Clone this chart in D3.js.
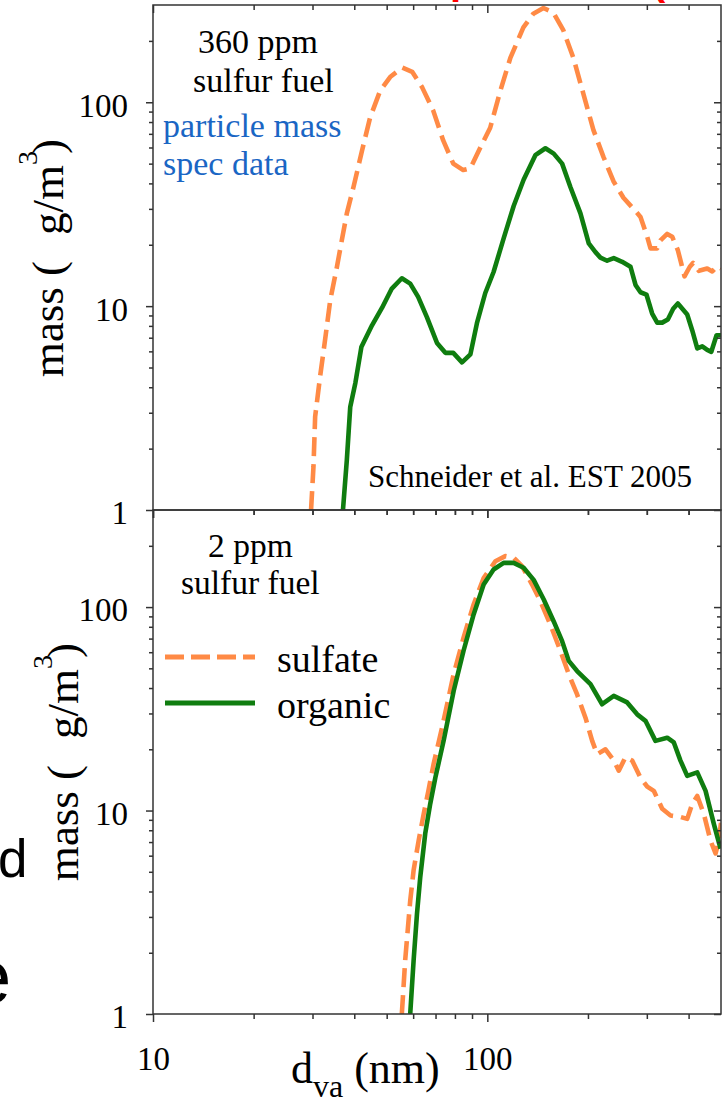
<!DOCTYPE html>
<html>
<head>
<meta charset="utf-8">
<script src="https://cdn.jsdelivr.net/npm/d3@7"></script>
<style>
  html, body { margin: 0; padding: 0; background: #fff; }
  svg { display: block; }
</style>
</head>
<body>
<svg id="chart" width="723" height="1099"></svg>
<script>
// ---------------- data (diameter nm, mass) ----------------
const topSulfate = [
  [29.7,1.0],[30.2,1.63],[30.55,2.87],[31.6,4.5],[32.7,6.8],[33.9,10.7],[35.5,15.6],[36.7,21],
  [38.0,28.5],[39.8,38.5],[42.2,58],[44.6,84],[47.8,114],[51.2,133],[55.7,148],
  [59.6,141],[63.9,118],[68.9,91],[73.8,65],[79.1,50],[84.7,46.5],[89.0,47.5],[95.3,60],
  [102,75],[109.4,114],[117.2,165],[128.2,233],[137.3,272],[147.2,290],[157.7,275],[168.9,225],
  [180.9,165],[193.8,110],[207.7,73],[222.5,54],[238.4,41],[255.4,34],[273.7,30],[287.2,27.4],
  [300.8,21.9],[307.7,19.2],[322.2,19.2],[329.6,21],[345.2,22.6],[357.3,21.9],[371.5,18.8],
  [380.2,16.2],[388.9,14],[403.3,15.6],[412.8,16.3],[429.3,14.9],[454.7,15.3],[470.8,14.8],
  [487.3,15.7],[500,15.3]
];
const topOrganic = [
  [37.0,1.0],[38.0,1.76],[38.9,3.2],[40.3,4.2],[42.0,6.3],[45.2,8.05],[48.4,9.8],[51.8,12.2],
  [55.5,13.7],[58.8,12.9],[62.1,11.1],[66.0,8.8],[70.7,6.6],[74.9,5.9],[79.1,5.9],[84.0,5.3],
  [89.0,5.8],[93.1,8.25],[98.6,11.6],[104.4,14.7],[111.9,21.5],[119.9,31],[128.4,41.7],
  [139.2,55],[149.2,59.5],[158.0,56],[167.4,50],[177.2,38.4],[189.9,28.5],[201.1,20.3],
  [210.6,18.4],[217.9,17.3],[228.2,16.7],[238.9,17.2],[253.1,16.5],[268.1,15.6],[277.5,12.7],
  [287.2,11.7],[299.2,11.4],[311.2,9.2],[322.2,8.3],[333.5,8.3],[346.7,8.6],[359.7,9.7],
  [371.5,10.3],[396.2,9.1],[410.2,7.6],[424.6,6.2],[439.5,6.35],[454.7,6.1],[467.7,5.97],
  [484.9,7.2],[500,7.2]
];
const bottomSulfate = [
  [55.5,1.0],[56.8,1.84],[58.8,3.6],[60.2,5.1],[62.3,7.1],[64.5,9.6],[66.7,12.6],[69.1,17],
  [73.2,25.5],[79.3,46.8],[84.9,70.8],[91.0,103],[97.5,139],[105.7,168],[113.2,178],[119.9,175],
  [127.0,159],[136.1,129],[144.1,107],[154.4,82],[165.4,61],[175.2,46.8],[185.6,37.2],
  [196.6,28.6],[205.9,22],[213.1,18.9],[225.6,20],[238.9,17.6],[247.3,15.7],[259.0,18.3],
  [271.2,17.6],[287.2,14.5],[300.8,13.1],[314.7,12.5],[333.5,10.2],[353.2,9.45],[378.2,9.3],
  [396.2,9.1],[410.2,10.8],[424.6,11.8],[444.4,9.6],[465.4,7.1],[481.6,6.15],[492.7,7.1],[500,8.7]
];
const bottomOrganic = [
  [58.8,1.0],[60.2,1.84],[61.6,3.1],[63.0,4.7],[65.2,7.7],[67.5,10.8],[69.9,14.5],[74.0,22],
  [79.3,38.7],[84.9,61],[91.0,92],[97.5,129],[104.4,153],[111.9,165],[119.9,165],[128.4,156],
  [137.6,136],[147.5,109],[158.0,85],[167.4,68],[175.2,54.4],[185.6,48.5],[203.5,41.8],
  [220.5,33.3],[238.9,36.6],[262.0,34],[280.7,29.7],[297.2,27.6],[318.4,22],[345.2,22.8],
  [361.3,21.6],[378.2,17.6],[396.2,14.8],[424.6,15.4],[449.6,12.5],[475.9,8.6],[498.4,6.5]
];
const xDomain = [10, 500];
const yDomain = [1, 300];
const xMajorTicks = [10, 100];
const xMinorTicks = [20,30,40,50,60,70,80,90,200,300,400];
const yMajorTicks = [1, 10, 100];
const yMinorTicks = [2,3,4,5,6,7,8,9,20,30,40,50,60,70,80,90,200];
const legendLabels = ["sulfate", "organic"];

// ---------------- layout ----------------
const svg = d3.select("#chart");
const SERIF = "'Liberation Serif','Times New Roman',serif";
const SANS = "'Liberation Sans',Arial,sans-serif";
const ORANGE = "#ff8a45", GREEN = "#0f7d0f", AXIS = "#333";
const left = 153, right = 721;
const panels = [
  { top: 5, bottom: 510, sulfate: topSulfate, organic: topOrganic },
  { top: 510, bottom: 1014, sulfate: bottomSulfate, organic: bottomOrganic }
];
const x = d3.scaleLog().domain(xDomain).range([left, right]);

const defs = svg.append("defs");

panels.forEach((p, i) => {
  const y = d3.scaleLog().domain(yDomain).range([p.bottom, p.top]);
  defs.append("clipPath").attr("id", "clip" + i)
    .append("rect").attr("x", left).attr("y", p.top)
    .attr("width", right - left).attr("height", p.bottom - p.top);

  const g = svg.append("g");
  const line = d3.line().x(d => x(d[0])).y(d => y(d[1]));
  g.append("path").datum(p.sulfate).attr("d", line)
    .attr("clip-path", `url(#clip${i})`)
    .attr("fill", "none").attr("stroke", ORANGE).attr("stroke-width", 4.6)
    .attr("stroke-dasharray", "19,8").attr("stroke-linejoin", "round");
  g.append("path").datum(p.organic).attr("d", line)
    .attr("clip-path", `url(#clip${i})`)
    .attr("fill", "none").attr("stroke", GREEN).attr("stroke-width", 4.6)
    .attr("stroke-linejoin", "round");

  const yLabelVals = yMajorTicks.filter(v => y(v) <= p.bottom + 0.5 && y(v) >= p.top);
  const ax = g.append("g").attr("transform", `translate(${left},0)`)
    .call(d3.axisLeft(y).tickValues(yLabelVals).tickSize(7).tickPadding(18)
      .tickFormat(d3.format("d")));
  ax.selectAll("text").attr("font-family", SERIF).attr("font-size", 33).attr("fill", "#000").attr("dy", "0.42em");
  g.append("g").attr("transform", `translate(${left},0)`)
    .call(d3.axisLeft(y).tickValues(yMinorTicks).tickSize(4).tickFormat(""));
  g.append("g").attr("transform", `translate(${right},0)`)
    .call(d3.axisLeft(y).tickValues(yMajorTicks).tickSize(7).tickFormat(""));
  g.append("g").attr("transform", `translate(${right},0)`)
    .call(d3.axisLeft(y).tickValues(yMinorTicks).tickSize(4).tickFormat(""));
  const bx = g.append("g").attr("transform", `translate(0,${p.bottom})`)
    .call(d3.axisBottom(x).tickValues(xMajorTicks).tickSize(8).tickPadding(25)
      .tickFormat(i === 1 ? d3.format("d") : () => ""));
  bx.selectAll("text").attr("font-family", SERIF).attr("font-size", 33).attr("fill", "#000");
  g.append("g").attr("transform", `translate(0,${p.bottom})`)
    .call(d3.axisBottom(x).tickValues(xMinorTicks).tickSize(5).tickFormat(""));
  g.append("g").attr("transform", `translate(0,${p.top})`)
    .call(d3.axisBottom(x).tickValues(xMajorTicks).tickSize(8).tickFormat(""));
  g.append("g").attr("transform", `translate(0,${p.top})`)
    .call(d3.axisBottom(x).tickValues(xMinorTicks).tickSize(5).tickFormat(""));

  g.selectAll(".domain").remove();
  g.selectAll(".tick line").attr("stroke", AXIS).attr("stroke-width", 1.5);
  g.append("rect").attr("x", left).attr("y", p.top)
    .attr("width", right - left).attr("height", p.bottom - p.top)
    .attr("fill", "none").attr("stroke", AXIS).attr("stroke-width", 1.5);
});

// y-axis titles
function yTitle(tx, ty) {
  const t = svg.append("text").attr("transform", `translate(${tx},${ty}) rotate(-90)`)
    .attr("text-anchor", "middle").attr("font-family", SERIF).attr("font-size", 45).attr("fill", "#000");
  t.append("tspan").text("mass (");
  t.append("tspan").attr("dx", 26).text("g/m");
  t.append("tspan").attr("font-size", 28).attr("dy", -26).text("3");
  t.append("tspan").attr("dy", 26).attr("dx", -3).text(")");
}
yTitle(63, 258);
yTitle(78, 762);

// x-axis title
const xt = svg.append("text").attr("x", 291).attr("y", 1083)
  .attr("font-family", SERIF).attr("font-size", 44).attr("fill", "#000");
xt.append("tspan").text("d");
xt.append("tspan").attr("font-size", 32).attr("dy", 14).text("va");
xt.append("tspan").attr("dy", -14).attr("dx", 11).text("(nm)");

// annotations
function txt(s, xx, yy, size, color) {
  svg.append("text").attr("x", xx).attr("y", yy).attr("font-family", SERIF)
    .attr("font-size", size).attr("fill", color || "#000").text(s);
}
txt("360 ppm", 198, 53, 34);
txt("sulfur fuel", 193, 92, 34);
txt("particle mass", 163, 137, 34, "#1a66c4");
txt("spec data", 163, 175, 34, "#1a66c4");
txt("Schneider et al. EST 2005", 368, 487, 31);
txt("2 ppm", 208, 557, 33.5);
txt("sulfur fuel", 181, 594, 33.5);

// legend
const legY = [657, 703];
const lg = svg.append("g");
lg.append("line").attr("x1", 165).attr("x2", 255).attr("y1", legY[0]).attr("y2", legY[0])
  .attr("stroke", ORANGE).attr("stroke-width", 5).attr("stroke-dasharray", "19,7");
lg.append("line").attr("x1", 165).attr("x2", 255).attr("y1", legY[1]).attr("y2", legY[1])
  .attr("stroke", GREEN).attr("stroke-width", 5);
legendLabels.forEach((s, k) => txt(s, 277, legY[k] + 15, 38));

// cropped fragments of neighbouring slide content
svg.append("text").attr("x", -2).attr("y", 877).attr("font-family", SANS)
  .attr("font-size", 53).attr("fill", "#000").text("d");
svg.append("text").attr("x", -31).attr("y", 1003).attr("font-family", SANS)
  .attr("font-size", 76).attr("fill", "#000").text("e");
svg.append("text").attr("x", 450).attr("y", -6).attr("font-family", SANS)
  .attr("font-weight", "bold").attr("font-size", 40).attr("fill", "#ff0000").text("p");
svg.append("text").attr("x", 652).attr("y", -5).attr("font-family", SANS)
  .attr("font-weight", "bold").attr("font-size", 40).attr("fill", "#ff0000").text("(");
</script>
</body>
</html>
